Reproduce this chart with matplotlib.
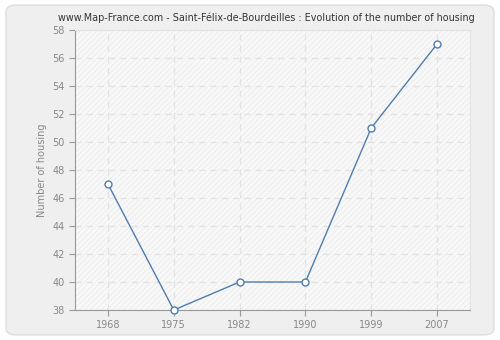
import matplotlib
matplotlib.use("Agg")
import matplotlib.pyplot as plt
from matplotlib.patches import FancyBboxPatch

years = ["1968", "1975", "1982", "1990", "1999", "2007"]
housing = [47, 38, 40, 40, 51, 57]
yticks = [38, 40, 42, 44, 46, 48, 50, 52, 54, 56, 58]

plt.rcParams['hatch.linewidth'] = 0.5
fig = plt.figure(figsize=(5, 3.4), dpi=100)
fig.patch.set_facecolor("white")
panel = FancyBboxPatch((0.012, 0.015), 0.976, 0.97, boxstyle="round,pad=0,rounding_size=0.02",
                       transform=fig.transFigure, facecolor="#efefef", edgecolor="#dddddd", lw=1,
                       zorder=-10)
fig.add_artist(panel)

ax = fig.add_axes([0.15, 0.0882, 0.79, 0.8236])
ax.set_facecolor("#f8f8f8")
ax.patch.set_hatch("//////")
ax.patch.set_edgecolor("#e9e9e9")
ax.patch.set_linewidth(0)

x = list(range(len(years)))
ax.plot(x, housing, color="#4f7db0", lw=1, marker="o", markersize=5,
        markerfacecolor="white", markeredgecolor="#4f7db0", markeredgewidth=1, zorder=3,
        clip_on=False)

ax.set_xlim(-0.5, len(years) - 0.5)
ax.set_ylim(38, 58)
ax.set_xticks(x)
ax.set_xticklabels(years)
ax.set_yticks(yticks)
ax.grid(True, color="#e2e2e2", linestyle=(0, (5, 4)), lw=0.9)
ax.set_axisbelow(True)

for s in ["left", "bottom"]:
    ax.spines[s].set_color("#999999")
for s in ["top", "right"]:
    ax.spines[s].set_color("#e4e4e4")
ax.tick_params(colors="#999999", labelcolor="#888888", labelsize=7, length=4, width=0.8)
ax.set_ylabel("Number of housing", color="#888888", fontsize=7)
fig.text(0.533, 0.949, "www.Map-France.com - Saint-Félix-de-Bourdeilles : Evolution of the number of housing",
         fontsize=6.9, color="#333333", ha="center", va="center")

fig.savefig("out.png", dpi=100, facecolor=fig.get_facecolor())
